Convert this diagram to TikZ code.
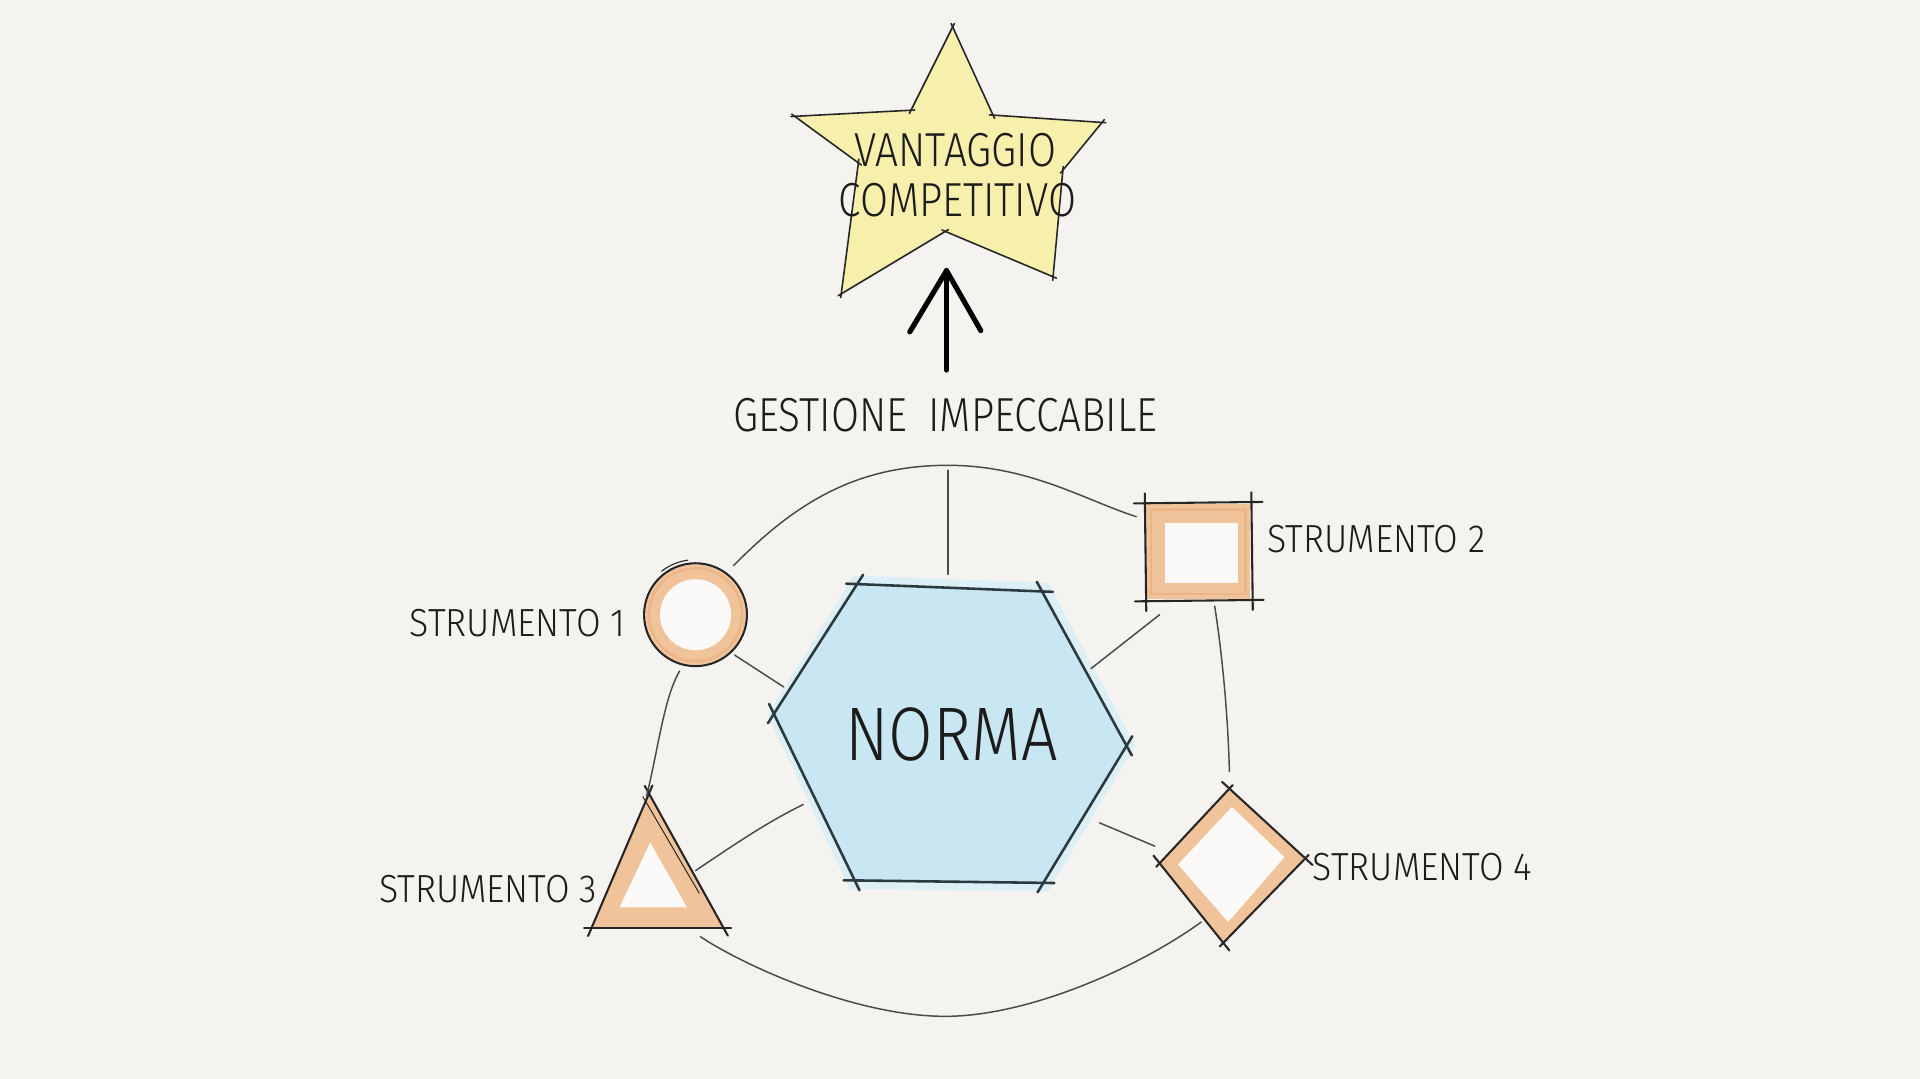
\documentclass[tikz,border=0pt]{standalone}
\usepackage{fontspec}
\usetikzlibrary{calc}
\newfontfamily\hand[FakeStretch=0.85]{Fira Sans Light}
\newfontfamily\handl[FakeStretch=0.91]{Fira Sans Light}
\definecolor{paper}{HTML}{F4F3EF}
\definecolor{paperin}{HTML}{FBFAF8}
\definecolor{inkc}{HTML}{262626}
\definecolor{connc}{HTML}{4A4A4A}
\definecolor{hexc}{HTML}{2C3A3F}
\definecolor{orng}{HTML}{F1C39A}
\definecolor{orngd}{HTML}{ECB587}
\definecolor{bluef}{HTML}{C9E7F3}
\definecolor{starf}{HTML}{F6F0AC}
\definecolor{txtc}{HTML}{1C1C1C}
\begin{document}
\begin{tikzpicture}[x=1pt,y=-1pt,
  ink/.style={draw=inkc, line width=1.7pt, line cap=round, line join=round},
  hexline/.style={draw=hexc, line width=2.1pt, line cap=round},
  conn/.style={draw=connc, line width=1.2pt, line cap=round},
  overs/.style={shorten <=-#1, shorten >=-#1},
  overs/.default=6pt,
  lbl/.style={font=\handl\fontsize{32}{36}\selectfont, text=txtc, inner sep=0pt},
  bigt/.style={font=\hand\fontsize{39}{44}\selectfont, text=txtc, inner sep=0pt},
  hugt/.style={font=\hand\fontsize{62}{70}\selectfont, text=txtc, inner sep=0pt}]
\useasboundingbox (0,0) rectangle (1568,881);
\fill[paper] (0,0) rectangle (1568,881);

% ---------- star ----------
\coordinate (s1) at (778,22);
\coordinate (s2) at (811,94);
\coordinate (s3) at (900,100);
\coordinate (s4) at (868,139);
\coordinate (s5) at (860,226);
\coordinate (s6) at (772,189);
\coordinate (s7) at (687,240);
\coordinate (s8) at (701,133);
\coordinate (s9) at (649,95);
\coordinate (s10) at (744,90);
\fill[starf] (s1)--(s2)--(s3)--(s4)--(s5)--(s6)--(s7)--(s8)--(s9)--(s10)--cycle;
\foreach \a/\b in {s1/s2,s2/s3,s3/s4,s4/s5,s5/s6,s6/s7,s7/s8,s8/s9,s9/s10,s10/s1}
  \draw[ink, line width=1.3pt, overs=3pt] (\a) -- (\b);
\node[bigt, anchor=base] (vt) at (780,136) {VANTAGGIO};
\node[bigt, anchor=base] (ct) at (782,177) {COMPETITIVO};

% ---------- arrow ----------
\node[bigt, anchor=base] (gest) at (772,352) {GESTIONE\hspace{8pt} IMPECCABILE};
\coordinate (abase) at (773,302);
\coordinate (atip) at (773,221);
\coordinate (awl) at (743,271);
\coordinate (awr) at (801,270);
\draw[draw=black, line width=4.6pt, line cap=round] (abase) -- (atip);
\draw[draw=black, line width=4.2pt, line cap=round, line join=round] (awl) -- (atip) -- (awr);

% ---------- hexagon ----------
\coordinate (h1) at (632,583);
\coordinate (h2) at (700,477);
\coordinate (h3) at (851,483);
\coordinate (h4) at (920,609);
\coordinate (h5) at (852,721);
\coordinate (h6) at (698,719);
\fill[bluef!65] (627,584) -- (697,470) -- (856,476) -- (927,609) -- (856,728) -- (694,726) -- cycle;
\fill[bluef] (h1)--(h2)--(h3)--(h4)--(h5)--(h6)--cycle;
\foreach \a/\b in {h1/h2,h2/h3,h3/h4,h4/h5,h5/h6,h6/h1}
  \draw[hexline, overs=9pt] (\a) -- (\b);
\node[hugt, anchor=base] (norma) at (777,621) {NORMA};

% ---------- strumento 1: circle ----------
\coordinate (cc) at (568,502);
\fill[orng] (cc) circle (41);
\draw[orngd, line width=2pt] (cc) circle (38);
\fill[paperin] (cc) circle (29);
\draw[ink] (cc) circle (42);
\draw[ink, line width=0.9pt] ($(cc)+(-128:45)$) arc[start angle=-128, end angle=-98, radius=45];
\node[lbl, anchor=base east] (l1) at (511,520) {STRUMENTO 1};

% ---------- strumento 2: square ----------
\fill[orng] (936,412) rectangle (1021,489);
\draw[orngd, line width=2pt] (940,416) rectangle (1017,485);
\fill[paperin] (951,427) rectangle (1011,476);
\coordinate (q1) at (935,411);
\coordinate (q2) at (1022,410);
\coordinate (q3) at (1023,490);
\coordinate (q4) at (936,491);
\draw[ink, overs=9pt] (q1) -- (q2);
\draw[ink, overs=8pt] (q2) -- (q3);
\draw[ink, overs=9pt] (q3) -- (q4);
\draw[ink, overs=8pt] (q4) -- (q1);
\node[lbl, anchor=base west] (l2) at (1035,451) {STRUMENTO 2};

% ---------- strumento 3: triangle ----------
\coordinate (t1) at (530,648);
\coordinate (t2) at (483,758);
\coordinate (t3) at (591,758);
\fill[orng] (t1)--(t2)--(t3)--cycle;
\fill[paperin] (531,688)--(506,741)--(561,741)--cycle;
\draw[ink, overs=7pt] (t1) -- (t2);
\draw[ink, overs=6pt] (t2) -- (t3);
\draw[ink, overs=7pt] (t3) -- (t1);
\draw[ink, line width=0.8pt, overs=4pt] (527,654) -- (569,726);
\node[lbl, anchor=base east] (l3) at (488,737) {STRUMENTO 3};

% ---------- strumento 4: diamond ----------
\coordinate (d1) at (1004,644);
\coordinate (d2) at (1066,701);
\coordinate (d3) at (999,770);
\coordinate (d4) at (947,705);
\fill[orng] (d1)--(d2)--(d3)--(d4)--cycle;
\fill[paperin] (1006,659)--(1049,700)--(1003,753)--(962,706)--cycle;
\draw[ink, overs=8pt] (d1) -- (d2);
\draw[ink, overs=4pt] (d2) -- (d3);
\draw[ink, overs=8pt] (d3) -- (d4);
\draw[ink, overs=4pt] (d4) -- (d1);
\node[lbl, anchor=base west] (l4) at (1072,719) {STRUMENTO 4};

% ---------- connectors ----------
\coordinate (c1top) at (599,462);
\coordinate (c1hex) at (600,535);
\coordinate (c1bot) at (555,548);
\coordinate (topmid) at (774,380);
\coordinate (vtop) at (774,384);
\coordinate (hextop) at (774,469);
\coordinate (sqtop) at (928,422);
\coordinate (sqhex) at (947,502);
\coordinate (sqbot) at (992,495);
\coordinate (dtop) at (1004,630);
\coordinate (hexl) at (640,561);
\coordinate (hexr) at (891,546);
\coordinate (hexbl) at (656,657);
\coordinate (hexbr) at (898,672);
\coordinate (tapex) at (528,650);
\coordinate (tright) at (568,711);
\coordinate (tbot) at (572,765);
\coordinate (botmid) at (772,830);
\coordinate (dleft) at (943,691);
\coordinate (dbot) at (981,753);

\draw[conn] (c1top) .. controls (650,410) and (700,380) .. (topmid)
            .. controls (840,380) and (885,408) .. (sqtop);
\draw[conn] (vtop) -- (hextop);
\draw[conn] (c1hex) -- (hexl);
\draw[conn] (sqhex) -- (hexr);
\draw[conn] (sqbot) .. controls (999,540) and (1003,590) .. (dtop);
\draw[conn] (c1bot) .. controls (542,570) and (537,615) .. (tapex);
\draw[conn] (tright) .. controls (595,693) and (625,672) .. (hexbl);
\draw[conn] (hexbr) -- (dleft);
\draw[conn] (tbot) .. controls (610,790) and (700,830) .. (botmid)
            .. controls (840,830) and (930,790) .. (dbot);
\end{tikzpicture}
\end{document}
